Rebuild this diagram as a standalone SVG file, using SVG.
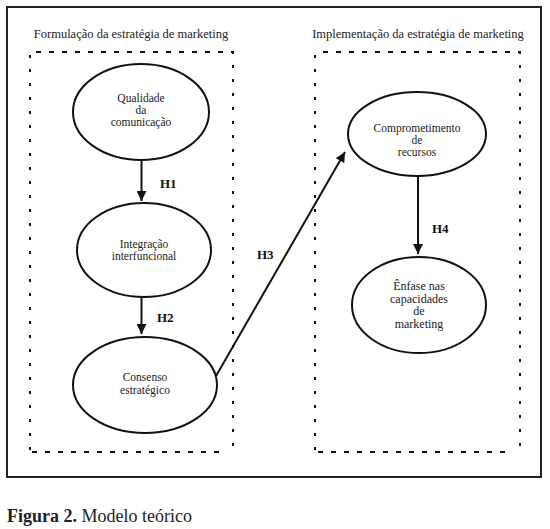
<svg xmlns="http://www.w3.org/2000/svg" width="550" height="529" viewBox="0 0 550 529" font-family="'Liberation Serif','Times New Roman',serif">
<defs>
<style>
text{font-family:"Liberation Serif","Times New Roman",serif}
.t{font-size:11.5px;fill:#222;text-anchor:middle}
.h{font-size:13px;font-weight:bold;fill:#111}
.e{fill:#fff;stroke:#111;stroke-width:2}
.dh{stroke:#111;stroke-width:2;stroke-dasharray:5 8;fill:none}
.dv{stroke:#111;stroke-width:2;stroke-dasharray:3 11;fill:none}
.c{stroke:#111;stroke-width:2;fill:none}
</style>
<marker id="ah" viewBox="0 0 10 10" refX="10" refY="5" markerWidth="5" markerHeight="5" orient="auto" markerUnits="strokeWidth">
<path d="M0,0 L10,5 L0,10 z" fill="#111"/>
</marker>
</defs>
<rect x="0" y="0" width="550" height="529" fill="#fff"/>
<rect x="7" y="7" width="534" height="470" fill="none" stroke="#222" stroke-width="2"/>

<g id="box-formulacao">
<text class="t" x="131" y="38" style="font-size:12.5px">Formulação da estratégia de marketing</text>
<line class="dh" x1="36" y1="52" x2="233" y2="52"/>
<line class="dh" x1="32" y1="452" x2="222" y2="452"/>
<line class="dv" x1="30" y1="55" x2="30" y2="452"/>
<line class="dv" x1="233" y1="51" x2="233" y2="452"/>
</g>
<g id="box-implementacao">
<text class="t" x="418" y="38" style="font-size:12.5px">Implementação da estratégia de marketing</text>
<line class="dh" x1="323" y1="52" x2="520" y2="52"/>
<line class="dh" x1="318" y1="452" x2="510" y2="452"/>
<line class="dv" x1="315" y1="55" x2="315" y2="452"/>
<line class="dv" x1="520" y1="51" x2="520" y2="452"/>
</g>

<g id="connectors">
<line class="c" x1="141.5" y1="160" x2="141.5" y2="201" marker-end="url(#ah)"/>
<text class="h" x="160" y="188">H1</text>
<line class="c" x1="141.5" y1="297" x2="141.5" y2="334" marker-end="url(#ah)"/>
<text class="h" x="157" y="322">H2</text>
<line class="c" x1="216" y1="376" x2="345" y2="152" marker-end="url(#ah)"/>
<text class="h" x="257" y="259">H3</text>
<line class="c" x1="418" y1="176" x2="418" y2="254" marker-end="url(#ah)"/>
<text class="h" x="432" y="233">H4</text>
</g>

<g id="n-qualidade">
<ellipse class="e" cx="141" cy="112" rx="68" ry="48"/>
<text class="t" x="141" y="102">Qualidade</text>
<text class="t" x="141" y="114">da</text>
<text class="t" x="141" y="126">comunicação</text>
</g>
<g id="n-integracao">
<ellipse class="e" cx="144" cy="250" rx="67" ry="47"/>
<text class="t" x="144" y="248">Integração</text>
<text class="t" x="144" y="260">interfuncional</text>
</g>
<g id="n-consenso">
<ellipse class="e" cx="145" cy="385" rx="72" ry="48"/>
<text class="t" x="145" y="381">Consenso</text>
<text class="t" x="145" y="394">estratégico</text>
</g>
<g id="n-comprometimento">
<ellipse class="e" cx="417" cy="134" rx="69" ry="42"/>
<text class="t" x="417" y="132">Comprometimento</text>
<text class="t" x="417" y="144">de</text>
<text class="t" x="417" y="156">recursos</text>
</g>
<g id="n-enfase">
<ellipse class="e" cx="419" cy="305" rx="67" ry="48"/>
<text class="t" x="419" y="290" style="font-size:12px">Ênfase nas</text>
<text class="t" x="419" y="302.5" style="font-size:12px">capacidades</text>
<text class="t" x="419" y="315" style="font-size:12px">de</text>
<text class="t" x="419" y="327.5" style="font-size:12px">marketing</text>
</g>

<text x="7" y="522" style="font-size:18px;fill:#222"><tspan font-weight="bold">Figura 2.</tspan> Modelo teórico</text>
</svg>
